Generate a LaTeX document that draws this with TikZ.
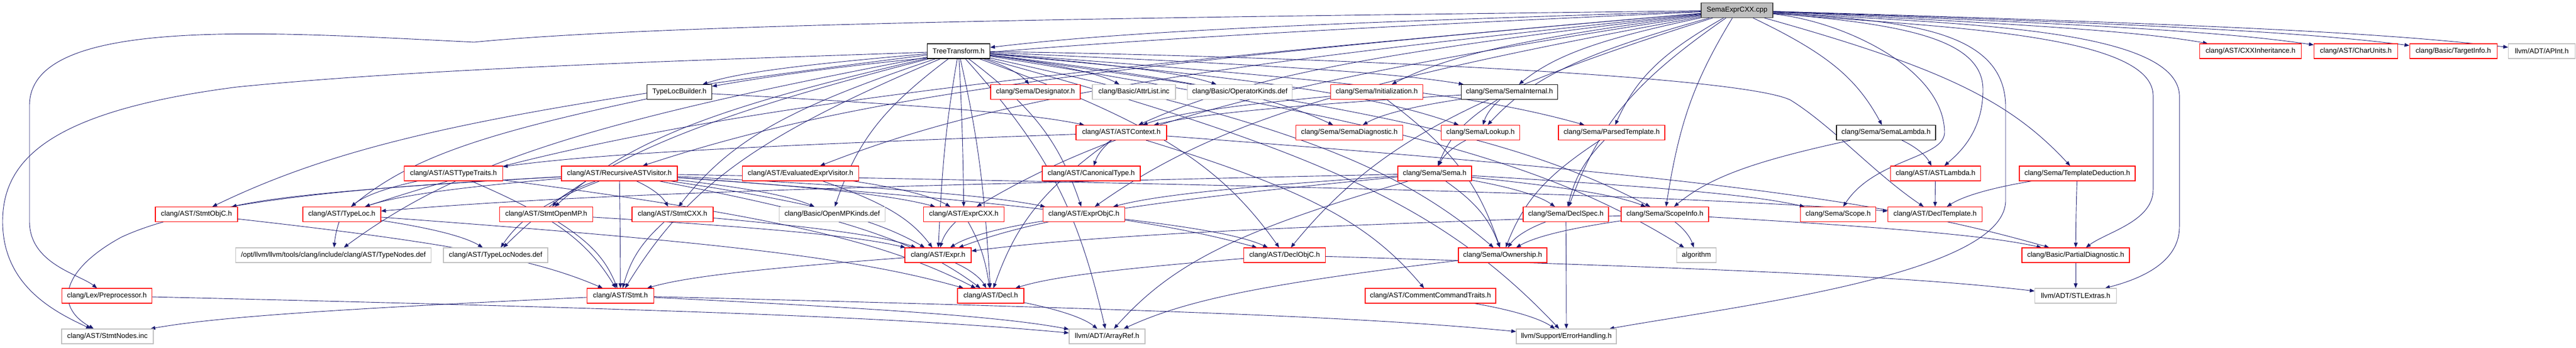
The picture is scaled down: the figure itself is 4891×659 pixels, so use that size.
\documentclass[tikz,border=0pt]{standalone}
\usepackage{fontspec}
\newfontfamily\dfont{Liberation Sans}
\usetikzlibrary{arrows.meta,calc,backgrounds}
\definecolor{edgecol}{HTML}{191970}
\definecolor{boxgray}{HTML}{BFBFBF}
\definecolor{rootfill}{HTML}{BFBFBF}
\definecolor{rootdraw}{HTML}{404040}
\tikzset{
  nbox/.style={draw, fill=white, rectangle, line width=1.1pt, inner xsep=4pt, inner ysep=0pt, minimum height=28pt, font=\dfont\fontsize{13.4}{16}\selectfont, text=black},
  rbox/.style={nbox, draw=red},
  gbox/.style={nbox, draw=boxgray},
  kbox/.style={nbox, draw=black},
  rootbox/.style={nbox, fill=rootfill, draw=rootdraw},
  ln/.style={draw=edgecol, line width=0.9pt, -{Triangle[length=9pt,width=7pt]}},
}
\newcommand\nd[6]{\node[#5, minimum width=#4pt] (#1) at (#2,#3) {#6};}
\newcommand\ed[2]{\draw[ln] let \p1=(#1), \p2=(#2) in (#1) .. controls ({\x1+0.6*(\x2-\x1)},{\y1+0.35*(\y2-\y1)}) and ({\x2-0.2*(\x2-\x1)},{\y2-0.45*(\y2-\y1)}) .. (#2);}
\newcommand\edp[3]{\draw[ln] (#1) #2 (#3);}
\begin{document}
\begin{tikzpicture}[x=1pt,y=-1pt]
\useasboundingbox (0,0) rectangle (4891,659);
% row 0
\nd{root}{3298}{19.5}{136}{rootbox}{SemaExprCXX.cpp}
% row 1
\nd{tt}{1820}{97}{119}{kbox}{TreeTransform.h}
\nd{cxxi}{4273}{97}{193}{rbox}{clang/AST/CXXInheritance.h}
\nd{cu}{4473}{97}{159}{rbox}{clang/AST/CharUnits.h}
\nd{ti}{4658}{97}{166}{rbox}{clang/Basic/TargetInfo.h}
\nd{api}{4826}{97}{127}{gbox}{llvm/ADT/APInt.h}
% row 2
\nd{tlb}{1290}{174.5}{123}{kbox}{TypeLocBuilder.h}
\nd{des}{1966}{174.5}{170}{rbox}{clang/Sema/Designator.h}
\nd{attr}{2153}{174.5}{158}{gbox}{clang/Basic/AttrList.inc}
\nd{opk}{2354}{174.5}{199}{gbox}{clang/Basic/OperatorKinds.def}
\nd{init}{2614}{174.5}{175}{rbox}{clang/Sema/Initialization.h}
\nd{si}{2866}{174.5}{183}{kbox}{clang/Sema/SemaInternal.h}
% row 3
\nd{ctx}{2129}{251.5}{172}{rbox}{clang/AST/ASTContext.h}
\nd{sdiag}{2562}{251.5}{203}{rbox}{clang/Sema/SemaDiagnostic.h}
\nd{look}{2811}{251.5}{149}{rbox}{clang/Sema/Lookup.h}
\nd{pt}{3060}{251.5}{202}{rbox}{clang/Sema/ParsedTemplate.h}
\nd{sl}{3581}{251.5}{188}{kbox}{clang/Sema/SemaLambda.h}
% row 4
\nd{att}{861}{329}{187}{rbox}{clang/AST/ASTTypeTraits.h}
\nd{rav}{1176}{329}{220}{rbox}{clang/AST/RecursiveASTVisitor.h}
\nd{eev}{1520}{329}{221}{rbox}{clang/AST/EvaluatedExprVisitor.h}
\nd{can}{2072}{329}{186}{rbox}{clang/AST/CanonicalType.h}
\nd{sema}{2724}{329}{140}{rbox}{clang/Sema/Sema.h}
\nd{astl}{3675}{329}{171}{rbox}{clang/AST/ASTLambda.h}
\nd{td}{3944}{329}{220}{rbox}{clang/Sema/TemplateDeduction.h}
% row 5
\nd{sobjc}{373}{406.5}{156}{rbox}{clang/AST/StmtObjC.h}
\nd{tl}{649}{406.5}{148}{rbox}{clang/AST/TypeLoc.h}
\nd{somp}{1037}{406.5}{177}{rbox}{clang/AST/StmtOpenMP.h}
\nd{scxx}{1277}{406.5}{154}{rbox}{clang/AST/StmtCXX.h}
\nd{ompk}{1580}{406.5}{201}{gbox}{clang/Basic/OpenMPKinds.def}
\nd{ecxx}{1830}{406.5}{153}{rbox}{clang/AST/ExprCXX.h}
\nd{eobjc}{2058}{406.5}{155}{rbox}{clang/AST/ExprObjC.h}
\nd{ds}{2973}{406.5}{162}{rbox}{clang/Sema/DeclSpec.h}
\nd{sci}{3161}{406.5}{166}{rbox}{clang/Sema/ScopeInfo.h}
\nd{scope}{3490}{406.5}{143}{rbox}{clang/Sema/Scope.h}
\nd{dt}{3674}{406.5}{179}{rbox}{clang/AST/DeclTemplate.h}
% row 6
\nd{tn}{633}{484}{371}{gbox}{/opt/llvm/llvm/tools/clang/include/clang/AST/TypeNodes.def}
\nd{tln}{941}{484}{198}{gbox}{clang/AST/TypeLocNodes.def}
\nd{expr}{1781}{484}{126}{rbox}{clang/AST/Expr.h}
\nd{dobjc}{2439}{484}{155}{rbox}{clang/AST/DeclObjC.h}
\nd{own}{2853}{484}{168}{rbox}{clang/Sema/Ownership.h}
\nd{alg}{3221}{484}{75}{gbox}{algorithm}
\nd{pd}{3941}{484}{204}{rbox}{clang/Basic/PartialDiagnostic.h}
% row 7
\nd{pre}{203}{561}{171}{rbox}{clang/Lex/Preprocessor.h}
\nd{stmt}{1178}{561}{127}{rbox}{clang/AST/Stmt.h}
\nd{decl}{1881}{561}{126}{rbox}{clang/AST/Decl.h}
\nd{cct}{2716}{561}{248}{rbox}{clang/AST/CommentCommandTraits.h}
\nd{stl}{3941}{561}{155}{gbox}{llvm/ADT/STLExtras.h}
% row 8
\nd{sn}{204}{638}{174}{gbox}{clang/AST/StmtNodes.inc}
\nd{ar}{2102}{638}{144}{gbox}{llvm/ADT/ArrayRef.h}
\nd{eh}{2974}{638}{190}{gbox}{llvm/Support/ErrorHandling.h}

\begin{scope}[on background layer]
% root
\ed{root}{tt}\ed{root}{tlb}\ed{root}{cxxi}\ed{root}{cu}\ed{root}{ti}\ed{root}{api}
\ed{root}{si}\ed{root}{init}\ed{root}{ctx}\ed{root}{dobjc}\ed{root}{eev}\ed{root}{ecxx}
\ed{root}{eobjc}\ed{root}{rav}\ed{root}{tl}\ed{root}{ds}\ed{root}{look}\ed{root}{pt}
\ed{root}{sci}\ed{root}{sl}\ed{root}{td}
\edp{root}{.. controls (2500,30) and (1300,40) .. (900,80) .. controls (500,60) and (56,30) .. (56,200) -- (56,420) .. controls (56,500) and (150,520) ..}{pre}
\edp{root}{.. controls (3700,45) and (4130,50) .. (4138,180) -- (4138,430) .. controls (4138,500) and (4060,530) ..}{stl}
\edp{root}{.. controls (3650,50) and (4085,60) .. (4088,180) -- (4088,360) .. controls (4088,420) and (4000,440) ..}{pd}
\edp{root}{.. controls (3600,40) and (3805,50) .. (3808,200) -- (3808,380) .. controls (3808,520) and (3300,580) ..}{eh}
\edp{root}{.. controls (3500,40) and (3690,130) .. (3692,250) .. controls (3694,300) and (3560,300) ..}{scope}
\edp{root}{.. controls (3600,45) and (3765,70) .. (3765,170) .. controls (3765,250) and (3720,290) ..}{astl}
% TreeTransform
\ed{tt}{tlb}\ed{tt}{des}\ed{tt}{attr}\ed{tt}{opk}\ed{tt}{si}\ed{tt}{sdiag}\ed{tt}{look}
\ed{tt}{pt}\ed{tt}{sci}\ed{tt}{alg}\ed{tt}{eh}\ed{tt}{decl}\ed{tt}{dobjc}\ed{tt}{expr}
\ed{tt}{ecxx}\ed{tt}{eobjc}\ed{tt}{stmt}\ed{tt}{scxx}\ed{tt}{sobjc}\ed{tt}{somp}\ed{tt}{own}
\ed{tt}{ar}\ed{tt}{ompk}\ed{tt}{tln}\ed{tt}{tn}
\edp{tt}{.. controls (2400,105) and (3300,140) .. (3400,190) .. controls (3480,240) and (3560,330) ..}{dt}
\edp{tt}{.. controls (1300,115) and (800,130) .. (450,165) .. controls (100,210) and (5,300) .. (5,420) .. controls (5,540) and (100,590) ..}{sn}
% RecursiveASTVisitor
\ed{rav}{decl}\ed{rav}{dobjc}\ed{rav}{dt}\ed{rav}{expr}\ed{rav}{ecxx}\ed{rav}{eobjc}
\ed{rav}{stmt}\ed{rav}{scxx}\ed{rav}{sobjc}\ed{rav}{somp}\ed{rav}{tl}\ed{rav}{tln}\ed{rav}{ompk}
\edp{rav}{.. controls (800,350) and (400,370) .. (230,450) .. controls (120,510) and (100,580) ..}{sn}
% others
\ed{eev}{expr}\ed{eev}{ecxx}
\ed{tlb}{ctx}\ed{tlb}{tl}
\ed{si}{ctx}\ed{si}{look}\ed{si}{sema}\ed{si}{sdiag}
\ed{init}{ctx}\ed{init}{own}
\ed{look}{sema}
\ed{pt}{ds}\ed{pt}{own}
\ed{sl}{astl}\ed{sl}{sci}
\ed{ctx}{att}\ed{ctx}{can}\ed{ctx}{cct}\ed{ctx}{decl}\ed{ctx}{pd}
\ed{att}{tl}\ed{att}{stmt}\ed{att}{decl}
\ed{sema}{expr}\ed{sema}{eobjc}\ed{sema}{tl}\ed{sema}{ds}\ed{sema}{own}\ed{sema}{scope}\ed{sema}{sci}\ed{sema}{ar}
\ed{astl}{dt}
\ed{td}{dt}\ed{td}{pd}
\ed{sobjc}{stmt}
\ed{tl}{tn}\ed{tl}{tln}\ed{tl}{decl}
\ed{somp}{stmt}\ed{somp}{expr}
\ed{scxx}{stmt}\ed{scxx}{expr}
\ed{ecxx}{expr}\ed{ecxx}{decl}
\ed{eobjc}{expr}\ed{eobjc}{dobjc}
\ed{ds}{own}\ed{ds}{eh}
\ed{sci}{expr}\ed{sci}{own}\ed{sci}{alg}\ed{sci}{pd}
\ed{expr}{decl}\ed{expr}{stmt}
\ed{dobjc}{decl}\ed{dobjc}{stl}
\ed{own}{ar}
\ed{pd}{stl}
\ed{pre}{ar}
\ed{stmt}{sn}\ed{stmt}{ar}\ed{stmt}{eh}
\ed{decl}{ar}
\ed{cct}{eh}
\end{scope}
\end{tikzpicture}
\end{document}
